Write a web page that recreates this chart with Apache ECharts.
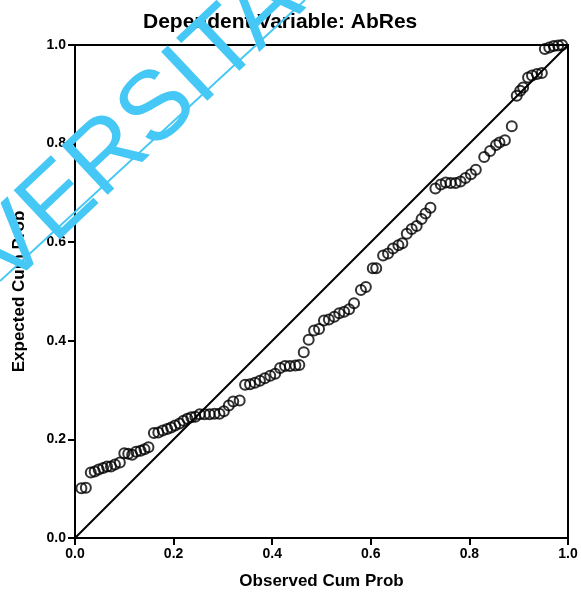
<!DOCTYPE html>
<html>
<head>
<meta charset="utf-8">
<script src="https://cdn.jsdelivr.net/npm/echarts@6/dist/echarts.min.js"></script>
<style>
  html, body { margin: 0; padding: 0; background: #fff; }
  #chart { width: 581px; height: 595px; }
</style>
</head>
<body>
<div id="chart"></div>
<script>
  // P-P plot data: observed vs expected cumulative probability
  const obsProb = [0.013, 0.022, 0.032, 0.040, 0.048, 0.057, 0.065, 0.073, 0.081, 0.091,
    0.100, 0.108, 0.116, 0.124, 0.133, 0.141, 0.149, 0.160, 0.169, 0.178,
    0.187, 0.195, 0.203, 0.212, 0.220, 0.228, 0.236, 0.244, 0.253, 0.263,
    0.273, 0.283, 0.293, 0.302, 0.312, 0.321, 0.334, 0.345, 0.355, 0.365,
    0.375, 0.385, 0.396, 0.406, 0.416, 0.426, 0.436, 0.447, 0.455, 0.464,
    0.474, 0.485, 0.495, 0.505, 0.515, 0.526, 0.536, 0.546, 0.556, 0.566,
    0.580, 0.590, 0.604, 0.611, 0.625, 0.635, 0.645, 0.656, 0.664, 0.673,
    0.683, 0.693, 0.703, 0.711, 0.721, 0.731, 0.742, 0.752, 0.762, 0.772,
    0.782, 0.792, 0.803, 0.813, 0.830, 0.842, 0.854, 0.861, 0.872, 0.886,
    0.896, 0.903, 0.909, 0.919, 0.927, 0.937, 0.947, 0.953, 0.962, 0.971,
    0.980, 0.988];
  const expProb = [0.101, 0.102, 0.133, 0.135, 0.139, 0.142, 0.145, 0.145, 0.149, 0.153,
    0.172, 0.171, 0.169, 0.175, 0.177, 0.180, 0.184, 0.213, 0.214, 0.218,
    0.221, 0.224, 0.228, 0.232, 0.238, 0.242, 0.245, 0.246, 0.251, 0.251,
    0.251, 0.252, 0.252, 0.257, 0.269, 0.277, 0.279, 0.311, 0.312, 0.315,
    0.319, 0.324, 0.329, 0.333, 0.345, 0.349, 0.349, 0.350, 0.351, 0.377,
    0.402, 0.421, 0.424, 0.441, 0.443, 0.449, 0.456, 0.459, 0.464, 0.476,
    0.503, 0.509, 0.547, 0.547, 0.573, 0.577, 0.587, 0.594, 0.598, 0.617,
    0.627, 0.633, 0.647, 0.658, 0.670, 0.709, 0.717, 0.721, 0.720, 0.720,
    0.723, 0.730, 0.738, 0.747, 0.773, 0.785, 0.797, 0.802, 0.807, 0.835,
    0.897, 0.907, 0.914, 0.934, 0.938, 0.941, 0.943, 0.992, 0.995, 0.998,
    0.999, 1.000];
  // reference diagonal
  const refLine = [[0, 0], [1, 1]];

  const font = '"Liberation Sans", Arial, sans-serif';
  const chart = echarts.init(document.getElementById('chart'));

  const option = {
    backgroundColor: '#fff',
    animation: false,
    title: {
      text: 'Dependent Variable: AbRes',
      left: 143,
      top: 12,
      padding: 0,
      textStyle: { fontFamily: font, fontSize: 21, fontWeight: 'bold', color: '#000' }
    },
    grid: {
      left: 75, right: 13, top: 45, bottom: 56,
      show: true, borderColor: '#000', borderWidth: 2
    },
    xAxis: {
      type: 'value', min: 0, max: 1, interval: 0.2,
      name: 'Observed Cum Prob', nameLocation: 'middle', nameGap: 35,
      nameTextStyle: { fontFamily: font, fontSize: 17, fontWeight: 'bold', color: '#000' },
      axisLine: { show: true, onZero: false, lineStyle: { color: '#000', width: 2 } },
      axisTick: { show: true, length: 7, lineStyle: { color: '#000', width: 2 } },
      axisLabel: {
        margin: 9, fontFamily: font, fontSize: 14, fontWeight: 'bold', color: '#000',
        formatter: v => v.toFixed(1)
      },
      splitLine: { show: false }
    },
    yAxis: {
      type: 'value', min: 0, max: 1, interval: 0.2,
      name: 'Expected Cum Prob', nameLocation: 'middle', nameGap: 47,
      nameTextStyle: { fontFamily: font, fontSize: 17, fontWeight: 'bold', color: '#000' },
      axisLine: { show: true, onZero: false, lineStyle: { color: '#000', width: 2 } },
      axisTick: { show: true, length: 7, lineStyle: { color: '#000', width: 2 } },
      axisLabel: {
        margin: 9, fontFamily: font, fontSize: 14, fontWeight: 'bold', color: '#000',
        formatter: v => v.toFixed(1)
      },
      splitLine: { show: false }
    },
    series: [
      {
        type: 'line',
        data: refLine,
        symbol: 'none',
        lineStyle: { color: '#000', width: 2 },
        silent: true
      },
      {
        type: 'scatter',
        data: obsProb.map((x, i) => [x, expProb[i]]),
        symbol: 'circle',
        symbolSize: 10,
        clip: false,
        itemStyle: { color: 'rgba(0,0,0,0)', borderColor: '#000', borderWidth: 2 }
      }
    ],
    // watermark over the plot
    graphic: [
      {
        type: 'line', z: 100,
        shape: { x1: 0, y1: 281, x2: 305, y2: 0 },
        style: { stroke: '#45c8f5', lineWidth: 2 }
      },
      {
        type: 'text', z: 100,
        x: 138, y: 129,
        rotation: 0.755,
        style: {
          text: 'VERSITA',
          fontSize: 98,
          fontFamily: font,
          fontWeight: 'normal',
          fill: '#45c8f5',
          align: 'center',
          verticalAlign: 'middle'
        }
      }
    ]
  };

  chart.setOption(option);
</script>
</body>
</html>
